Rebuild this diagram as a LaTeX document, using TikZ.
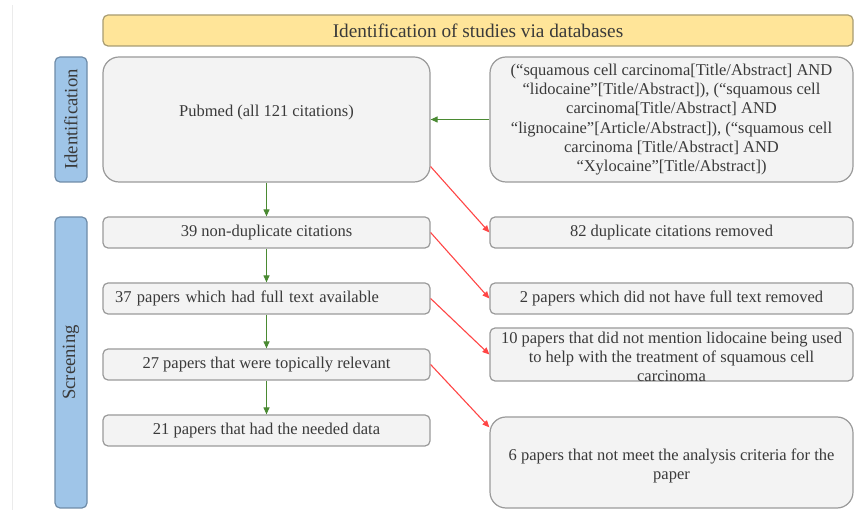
\documentclass[tikz,border=0pt]{standalone}
\usepackage{fontspec}
\setmainfont{Liberation Serif}
\usepackage{xcolor}
\usepackage{tikz}
\usetikzlibrary{arrows.meta,positioning,calc}
\definecolor{bannerfill}{HTML}{FFE599}
\definecolor{bannerline}{HTML}{A89C72}
\definecolor{tabfill}{HTML}{9FC5E8}
\definecolor{tabline}{HTML}{6F8CA8}
\definecolor{boxfill}{HTML}{F3F3F3}
\definecolor{boxline}{HTML}{9A9A9A}
\definecolor{inkgray}{HTML}{3A3A3A}
\definecolor{keepgreen}{HTML}{4A8A32}
\definecolor{dropred}{HTML}{FF4545}
\tikzstyle{box} = [rectangle, rounded corners=5pt, draw=boxline, fill=boxfill, line width=1.2pt, text=inkgray, inner sep=0pt, align=center, font=\fontsize{16.5}{19.3}\selectfont]
\tikzstyle{bigbox} = [box, rounded corners=16pt]
\tikzstyle{boxtext} = [inner sep=0pt, align=center, text=inkgray, font=\fontsize{16.5}{19.3}\selectfont]
\tikzstyle{phase} = [rectangle, rounded corners=5pt, draw=tabline, fill=tabfill, line width=1.2pt, text=inkgray, inner sep=0pt, rotate=90, minimum height=32pt, font=\fontsize{18.7}{22}\selectfont]
\tikzstyle{banner} = [rectangle, rounded corners=5pt, draw=bannerline, fill=bannerfill, line width=1.2pt, text=inkgray, inner sep=0pt, font=\fontsize{19.3}{22}\selectfont]
\tikzstyle{keep} = [draw=keepgreen, line width=1.1pt, -{Triangle[length=7pt,width=6pt]}]
\tikzstyle{drop} = [draw=dropred, line width=1.1pt, -{Triangle[length=7pt,width=6pt]}]

\begin{document}
\begin{tikzpicture}[x=1pt,y=-1pt]
    \useasboundingbox (0,0) rectangle (855,510);
    \draw[color=black!8, line width=1pt] (12,5) -- (12,510);

    \node[banner, minimum width=750pt, minimum height=31pt] (title) at (478,30.5) {Identification of studies via databases};
    \node[phase, minimum width=125pt] (idtab) at (71,119.5) {Identification};
    \node[phase, minimum width=291pt] (sctab) at (71,362.5) {Screening};

    \node[bigbox, minimum width=327pt, minimum height=125pt, text depth=18pt] (pubmed) at (266.5,119.5) {Pubmed (all 121 citations)};
    \node[bigbox, minimum width=363pt, minimum height=125pt] (query) at (671.5,119.5) {(“squamous cell carcinoma[Title/Abstract] AND\\ “lidocaine”[Title/Abstract]), (“squamous cell\\ carcinoma[Title/Abstract] AND\\ “lignocaine”[Article/Abstract]), (“squamous cell\\ carcinoma [Title/Abstract] AND\\ “Xylocaine”[Title/Abstract])};

    \node[box, minimum width=327pt, minimum height=31pt] (s39) at (266.5,232.5) {39 non-duplicate citations};
    \node[box, minimum width=327pt, minimum height=31pt, text width=303pt, align=left] (s37) at (266.5,298.5) {37 papers which had full text available};
    \node[box, minimum width=327pt, minimum height=31pt] (s27) at (266.5,364.5) {27 papers that were topically relevant};
    \node[box, minimum width=327pt, minimum height=31pt] (s21) at (266.5,430.5) {21 papers that had the needed data};

    \node[box, minimum width=363pt, minimum height=31pt] (r82) at (671.5,232.5) {82 duplicate citations removed};
    \node[box, minimum width=363pt, minimum height=31pt] (r2) at (671.5,298.5) {2 papers which did not have full text removed};
    \node[box, minimum width=363pt, minimum height=53pt] (r10) at (671.5,354.5) {};
    \node[boxtext] (r10txt) at (671.5,357) {10 papers that did not mention lidocaine being used\\ to help with the treatment of squamous cell\\ carcinoma};
    \node[bigbox, minimum width=363pt, minimum height=91pt] (r6) at (671.5,462.5) {};
    \node[boxtext] (r6txt) at (671.5,466) {6 papers that not meet the analysis criteria for the\\ paper};

    \draw[keep] (query) -- (pubmed);
    \draw[keep] (pubmed) -- (s39);
    \draw[keep] (s39) -- (s37);
    \draw[keep] (s37) -- (s27);
    \draw[keep] (s27) -- (s21);

    \draw[drop] (pubmed.-16.5) -- (r82.west);
    \draw[drop] (s39.east) -- (r2.west);
    \draw[drop] (s37.east) -- (r10.west);
    \draw[drop] (s27.east) -- ([yshift=-11pt]r6.north west);
\end{tikzpicture}
\end{document}
